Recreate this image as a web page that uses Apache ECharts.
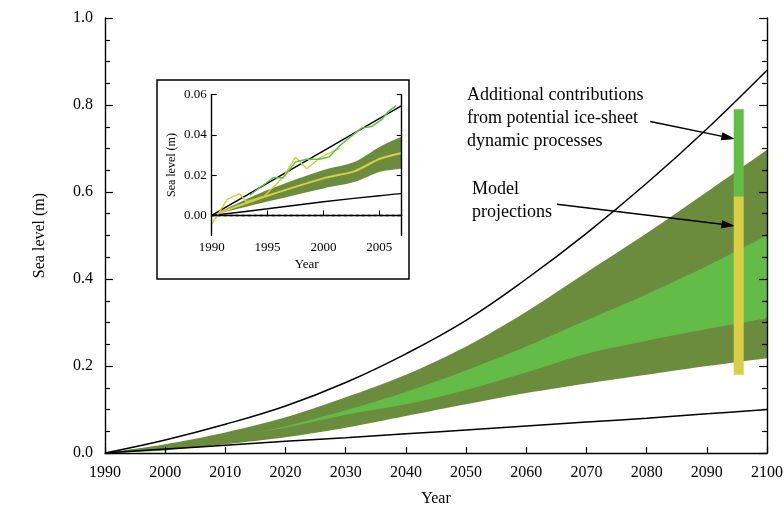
<!DOCTYPE html>
<html>
<head>
<meta charset="utf-8">
<script src="https://cdn.jsdelivr.net/npm/echarts@6/dist/echarts.min.js"></script>
<style>
  html, body { margin: 0; padding: 0; background: #fff; }
  #chart { width: 784px; height: 506px; }
</style>
</head>
<body>
<div id="chart"></div>
<script>
// ---- Projected sea-level rise, 1990-2100 (m) ----
const years = [1990, 2000, 2010, 2020, 2030, 2040, 2050, 2060, 2070, 2080, 2090, 2100];
const upperCurve = [0, 0.030, 0.066, 0.108, 0.162, 0.228, 0.305, 0.400, 0.505, 0.620, 0.745, 0.880];
const lowerCurve = [0, 0.009, 0.018, 0.027, 0.035, 0.044, 0.053, 0.062, 0.071, 0.080, 0.090, 0.100];
const outerLow  = [0, 0.006, 0.020, 0.036, 0.058, 0.085, 0.112, 0.138, 0.160, 0.180, 0.200, 0.218];
const outerHigh = [0, 0.020, 0.047, 0.082, 0.128, 0.180, 0.245, 0.325, 0.415, 0.505, 0.600, 0.697];
const innerYears = [2015, 2020, 2030, 2040, 2050, 2060, 2070, 2080, 2090, 2100];
const innerLow  = [0.047, 0.058, 0.088, 0.112, 0.145, 0.185, 0.228, 0.258, 0.285, 0.310];
const innerHigh = [0.047, 0.061, 0.098, 0.140, 0.190, 0.245, 0.305, 0.365, 0.430, 0.500];

// Ranges shown as a vertical bar near 2095
const barYear = 2095.3;
const modelRange = [0.18, 0.59];
const iceSheetRange = [0.59, 0.79];

// Annotation arrows: [fromYear, fromLevel, toYear, toLevel]
const iceArrow = [2080.6, 0.762, 2093.6, 0.725];
const modelArrow = [2065.1, 0.572, 2093.6, 0.524];

// ---- Observations 1990-2007 (m) ----
const recentYears = [1990, 1995, 2000, 2007];
const recentUpper = [0, 0.016, 0.032, 0.0545];
const recentLowerYears = [1990, 1995, 2000, 2005, 2007];
const recentLower = [0, 0.0033, 0.0068, 0.0098, 0.0108];
const recentBandYears = [1990, 1992, 1995, 2000, 2002.8, 2005, 2007];
const recentBandLow  = [0, 0.0028, 0.0069, 0.0134, 0.0167, 0.0216, 0.0233];
const recentBandHigh = [0, 0.0052, 0.0126, 0.0225, 0.0266, 0.0340, 0.0392];
const recentBandMid  = [0, 0.0040, 0.0098, 0.0184, 0.0220, 0.0280, 0.0310];
const tideGaugeYears = [1990, 1991.4, 1992.5, 1993.1, 1994.7, 1996.4, 1997.5, 1998.5, 1999.8, 2001.5];
const tideGauge = [-0.0043, 0.0080, 0.0108, 0.0068, 0.0096, 0.0190, 0.0289, 0.0232, 0.0290, 0.0334];
const satelliteYears = [1993.4, 1995.5, 1996.4, 1997.5, 1998.5, 1999.6, 2000.5, 2001.5, 2003.4, 2004.3, 2005.2, 2005.8, 2006.5];
const satellite = [0.0100, 0.0187, 0.0187, 0.0266, 0.0279, 0.0279, 0.0290, 0.0348, 0.0433, 0.0441, 0.0475, 0.0515, 0.0545];

const insetTicks = [0, 0.02, 0.04, 0.06];

const OLIVE = '#6b8c3c';
const GREEN = '#63bb48';
const YELLOW = '#d9cf46';
const OBS_GREEN = '#5fbf3f';
const OBS_YELLOW = '#d8cb38';
const FONT = 'Liberation Serif';

const pairs = (xs, ys) => xs.map((x, i) => [x, ys[i]]);

// A filled range between two edges, drawn as one polygon through the axis scales.
// End points are doubled so the smoothing keeps the vertical ends square.
function bandSeries(xs, lo, hi, color, xi, yi) {
  return {
    type: 'custom', xAxisIndex: xi, yAxisIndex: yi, silent: true, clip: true, z: 2,
    data: pairs(xs, hi),
    renderItem: function (params, api) {
      if (params.dataIndex !== 0) return null;
      const n = xs.length;
      const pts = [];
      pts.push(api.coord([xs[0], hi[0]]));
      for (let i = 0; i < n; i++) pts.push(api.coord([xs[i], hi[i]]));
      pts.push(api.coord([xs[n - 1], hi[n - 1]]));
      pts.push(api.coord([xs[n - 1], lo[n - 1]]));
      for (let i = n - 1; i >= 0; i--) pts.push(api.coord([xs[i], lo[i]]));
      pts.push(api.coord([xs[0], lo[0]]));
      return { type: 'polygon', shape: { points: pts, smooth: 0.3 }, style: { fill: color } };
    }
  };
}

function plainLine(xs, ys, color, width, xi, yi, extra) {
  return Object.assign({
    type: 'line', xAxisIndex: xi, yAxisIndex: yi, data: pairs(xs, ys),
    showSymbol: false, smooth: false, silent: true, z: 4,
    lineStyle: { color: color, width: width }
  }, extra || {});
}

const axisText = (size) => ({ color: '#000', fontFamily: FONT, fontSize: size });
const blackLine = { show: true, lineStyle: { color: '#000', width: 1.4 } };

const chart = echarts.init(document.getElementById('chart'), null, { renderer: 'canvas' });

chart.setOption({
  animation: false,
  backgroundColor: '#fff',
  grid: [
    { left: 105, right: 17, top: 18, bottom: 53, containLabel: false, outerBoundsMode: 'none' },
    { left: 211.7, top: 94.5, width: 190, height: 141.1, containLabel: false, outerBoundsMode: 'none' }
  ],
  xAxis: [
    { type: 'value', gridIndex: 0, min: 1990, max: 2100, interval: 10, z: 8,
      axisLine: blackLine, splitLine: { show: false },
      axisTick: { inside: true, length: 6, lineStyle: { color: '#000', width: 1.2 } },
      axisLabel: Object.assign({ margin: 12, formatter: v => String(v) }, axisText(16)),
      name: 'Year', nameLocation: 'middle', nameGap: 38, nameTextStyle: axisText(16) },
    { type: 'value', gridIndex: 1, min: 1990, max: 2007, interval: 5, z: 8,
      axisLine: blackLine, splitLine: { show: false },
      axisTick: { inside: true, length: 5, lineStyle: { color: '#000', width: 1.1 } },
      axisLabel: Object.assign({ margin: 5, showMaxLabel: false, formatter: v => String(v) }, axisText(13)),
      name: 'Year', nameLocation: 'middle', nameGap: 22, nameTextStyle: axisText(13) }
  ],
  yAxis: [
    { type: 'value', gridIndex: 0, min: 0, max: 1, interval: 0.2, position: 'left', z: 8,
      axisLine: blackLine, splitLine: { show: false },
      axisTick: { inside: true, length: 8, lineStyle: { color: '#000', width: 1.2 } },
      minorTick: { show: true, splitNumber: 4, length: 5, lineStyle: { color: '#000', width: 1.2 } },
      axisLabel: Object.assign({ margin: 12, formatter: v => v.toFixed(1) }, axisText(16)),
      name: 'Sea level (m)', nameLocation: 'middle', nameRotate: 90, nameGap: 57,
      nameTextStyle: axisText(16) },
    { type: 'value', gridIndex: 0, min: 0, max: 1, interval: 0.2, position: 'right', z: 8,
      axisLine: blackLine, splitLine: { show: false },
      axisTick: { inside: true, length: 8, lineStyle: { color: '#000', width: 1.2 } },
      minorTick: { show: true, splitNumber: 4, length: 5, lineStyle: { color: '#000', width: 1.2 } },
      axisLabel: { show: false } },
    { type: 'value', gridIndex: 1, min: -0.01, max: 0.06, position: 'left', z: 8,
      axisLine: blackLine, splitLine: { show: false },
      axisTick: { inside: true, length: 5, customValues: insetTicks, lineStyle: { color: '#000', width: 1.1 } },
      axisLabel: Object.assign({ margin: 5, customValues: insetTicks, formatter: v => v.toFixed(2) }, axisText(13)),
      name: 'Sea level (m)', nameLocation: 'middle', nameRotate: 90, nameGap: 34,
      nameTextStyle: axisText(12) },
    { type: 'value', gridIndex: 1, min: -0.01, max: 0.06, position: 'right', z: 8,
      axisLine: blackLine, splitLine: { show: false },
      axisTick: { inside: true, length: 5, customValues: insetTicks, lineStyle: { color: '#000', width: 1.1 } },
      axisLabel: { show: false, customValues: insetTicks } }
  ],
  graphic: [
    { type: 'rect', shape: { x: 157, y: 80, width: 252, height: 199 },
      style: { fill: 'none', stroke: '#000', lineWidth: 1.5 }, silent: true, z: 10 },
    { type: 'text', left: 467, top: 84,
      style: { text: 'Additional contributions\nfrom potential ice-sheet\ndynamic processes',
               font: '18px "Liberation Serif"', fill: '#000', lineHeight: 23 }, silent: true },
    { type: 'text', left: 472, top: 178,
      style: { text: 'Model\nprojections', font: '18px "Liberation Serif"', fill: '#000', lineHeight: 23 },
      silent: true }
  ],
  series: [
    bandSeries(years, outerLow, outerHigh, OLIVE, 0, 0),
    bandSeries(innerYears, innerLow, innerHigh, GREEN, 0, 0),
    plainLine(years, upperCurve, '#000', 1.5, 0, 0, { smooth: 0.4 }),
    plainLine(years, lowerCurve, '#000', 1.5, 0, 0, { smooth: 0.4 }),
    plainLine([barYear, barYear], modelRange, YELLOW, 10, 0, 0,
      { z: 5, lineStyle: { color: YELLOW, width: 10, cap: 'butt' } }),
    plainLine([barYear, barYear], iceSheetRange, GREEN, 10, 0, 0,
      { z: 5, lineStyle: { color: GREEN, width: 10, cap: 'butt' },
        markLine: {
          silent: true, symbol: ['none', 'triangle'], symbolSize: [8, 14],
          label: { show: false }, emphasis: { disabled: true },
          lineStyle: { color: '#000', width: 1.5, type: 'solid' },
          itemStyle: { color: '#000' },
          data: [
            [{ coord: [iceArrow[0], iceArrow[1]] }, { coord: [iceArrow[2], iceArrow[3]] }],
            [{ coord: [modelArrow[0], modelArrow[1]] }, { coord: [modelArrow[2], modelArrow[3]] }]
          ]
        } }),

    // inset: 1990-2007
    plainLine([1990, 2007], [0, 0], '#000', 1.4, 1, 2, { lineStyle: { color: '#000', width: 1.4, type: [3, 3] } }),
    bandSeries(recentBandYears, recentBandLow, recentBandHigh, OLIVE, 1, 2),
    plainLine(recentBandYears, recentBandMid, YELLOW, 2, 1, 2, { smooth: 0.3 }),
    plainLine(recentYears, recentUpper, '#000', 1.4, 1, 2),
    plainLine(recentLowerYears, recentLower, '#000', 1.4, 1, 2, { smooth: 0.3 }),
    plainLine(tideGaugeYears, tideGauge, OBS_YELLOW, 1.4, 1, 2, { z: 6 }),
    plainLine(satelliteYears, satellite, OBS_GREEN, 1.4, 1, 2, { z: 6 })
  ]
});
</script>
</body>
</html>
